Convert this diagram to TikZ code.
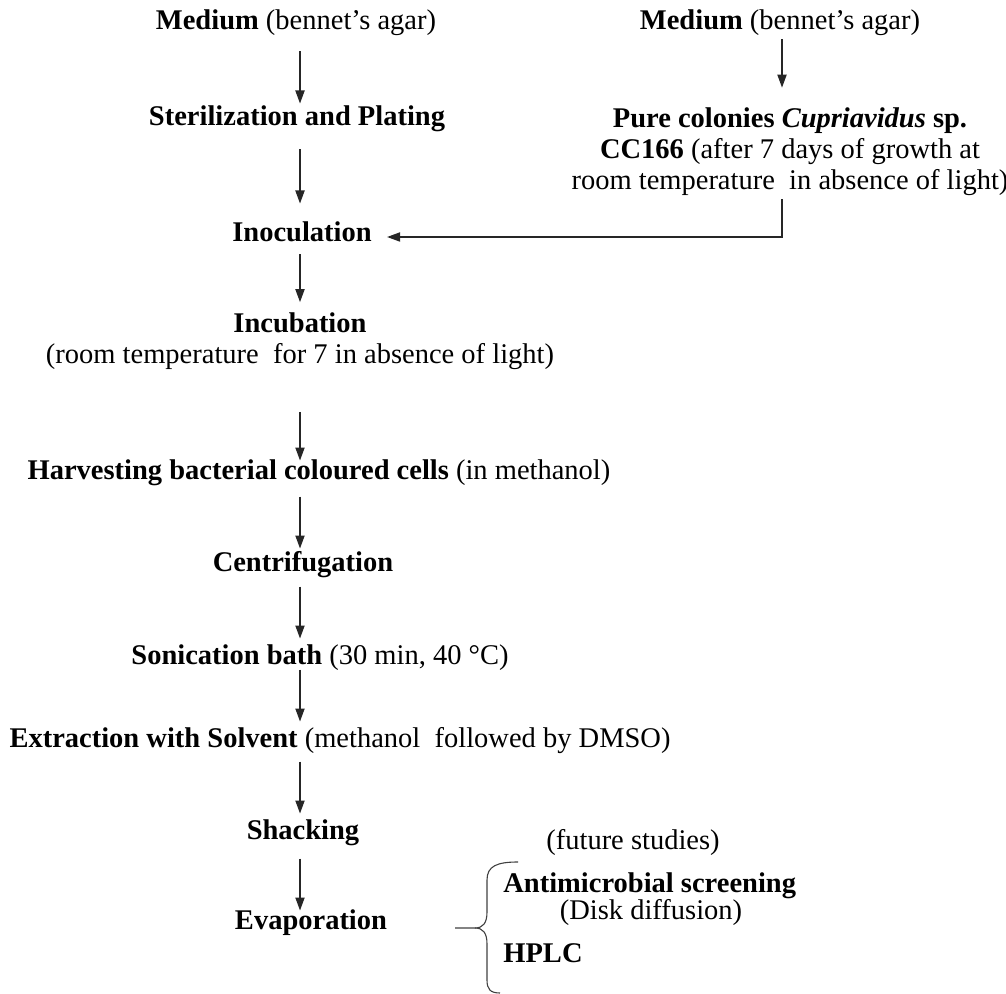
\documentclass[tikz,border=0pt]{standalone}
\usepackage{fontspec}
\setmainfont{Liberation Serif}
\usetikzlibrary{arrows.meta}

\begin{document}
\begin{tikzpicture}[x=0.5pt, y=-0.5pt,
        txt/.style={inner sep=0pt, font=\fontsize{14.25}{15.5}\selectfont},
        stage/.style={txt, text height=0.69em, text depth=0.22em},
        block/.style={txt, align=center},
        flow/.style={-{Triangle[length=6.5pt, width=4.6pt]}, line width=0.65pt, draw=black!85},
        brace/.style={line width=0.55pt, draw=black!75}
    ]
      \useasboundingbox (0,0) rectangle (1006,994);
      \coordinate (axis) at (300,0);
      \coordinate (feedx) at (782,0);

      % Left column
      \node[stage] (medL) at (296,25) {\textbf{Medium} (bennet's agar)};
      \node[stage] (steril) at (297,121) {\textbf{Sterilization and Plating}};
      \node[stage] (inoc) at (302,237) {\textbf{Inoculation}};
      \node[block] (incub) at (300,341) {\textbf{Incubation}\\(room temperature\ \ for 7 in absence of light)};
      \node[stage] (harvest) at (319,475) {\textbf{Harvesting bacterial coloured cells} (in methanol)};
      \node[stage] (centr) at (303,567) {\textbf{Centrifugation}};
      \node[stage] (sonic) at (320,660) {\textbf{Sonication bath} (30 min, 40 °C)};
      \node[stage] (extr) at (340,743) {\textbf{Extraction with Solvent} (methanol\ \ followed by DMSO)};
      \node[stage] (shack) at (303,835) {\textbf{Shacking}};
      \node[stage] (evap) at (311,925) {\textbf{Evaporation}};

      % Right column
      \node[stage] (medR) at (780,25) {\textbf{Medium} (bennet's agar)};
      \node[block] (pure) at (790,152) {\textbf{Pure colonies \textit{Cupriavidus} sp.}\\\textbf{CC166} (after 7 days of growth at\\room temperature\ \ in absence of light)};

      \draw[flow, shorten <=8.5pt, shorten >=4pt] (medL.south -| axis) -- (steril.north -| axis);
      \draw[flow, shorten <=9.5pt, shorten >=12pt] (steril.south -| axis) -- (inoc.north -| axis);
      \draw[flow, shorten <=4pt, shorten >=5pt] (inoc.south -| axis) -- (incub.north -| axis);
      \draw[flow, shorten <=21pt, shorten >=2.5pt] (incub.south -| axis) -- (harvest.north -| axis);
      \draw[flow, shorten <=6pt, shorten >=4.5pt] (harvest.south -| axis) -- (centr.north -| axis);
      \draw[flow, shorten <=5pt, shorten >=6pt] (centr.south -| axis) -- (sonic.north -| axis);
      \draw[flow, shorten <=0pt, shorten >=6pt] (sonic.south -| axis) -- (extr.north -| axis);
      \draw[flow, shorten <=4.5pt, shorten >=6pt] (extr.south -| axis) -- (shack.north -| axis);
      \draw[flow, shorten <=7pt, shorten >=2.5pt] (shack.south -| axis) -- (evap.north -| axis);

      \draw[flow, shorten <=2.5pt, shorten >=10pt] (medR.south -| feedx) -- (pure.north -| feedx);
      \draw[flow, shorten <=1.5pt, shorten >=7.5pt] (pure.south -| feedx) |- (inoc.east);

      % Follow-up analyses
      \coordinate (bracetip) at (455,928);
      \draw[brace] (518,862) .. controls (497,862) and (487,866) .. (487,880) -- (487,912)
            .. controls (487,923) and (483,928) .. (475,928) -- (bracetip);
      \draw[brace] (475,928) .. controls (483,928) and (487,933) .. (487,944) -- (487,980)
            .. controls (487,989) and (490,993) .. (500,993);
      \node[stage] (future) at (633,845) {(future studies)};
      \node[stage, anchor=west] (screen) at (503,888) {\textbf{Antimicrobial screening}};
      \node[stage] (disk) at (651,915) {(Disk diffusion)};
      \node[stage, anchor=west] (hplc) at (503,958) {\textbf{HPLC}};
    \end{tikzpicture}
\end{document}
